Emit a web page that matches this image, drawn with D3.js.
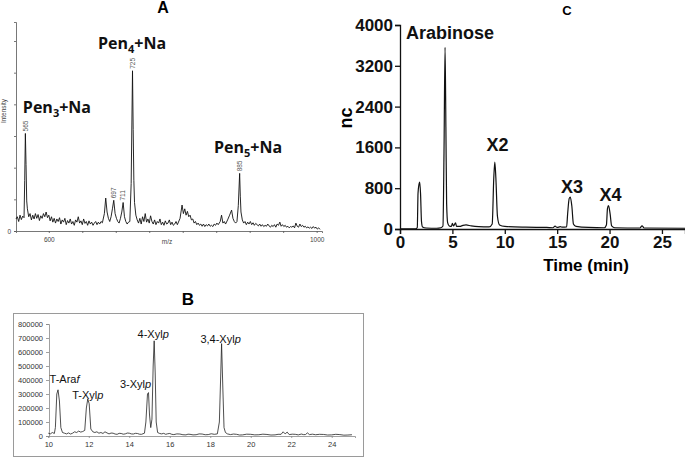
<!DOCTYPE html>
<html>
<head>
<meta charset="utf-8">
<script src="https://cdn.jsdelivr.net/npm/d3@7"></script>
<style>
    body { margin: 0; background: #fff; }
    svg { display: block; }
</style>
</head>
<body>
<svg id="chart"></svg>
<script>
// Panel A: MALDI spectrum, [m/z, intensity (a.u.)]
const spectrumA = [
    [551, .38], [553, .45], [555, .30], [557, .50], [559, .36], [561, .47], [563, .42], [564, 1.6],
    [565, 3.08], [566, 2.1], [567, .95], [568, .70], [570, .45], [572, .55], [574, .35], [576, .50],
    [578, .38], [580, .55], [582, .40], [584, .52], [586, .33], [588, .48], [590, .40], [592, .55],
    [594, .45], [596, .60], [598, .42], [600, .50], [602, .32], [604, .45], [606, .28], [608, .40],
    [610, .25], [612, .38], [614, .30], [616, .42], [618, .22], [620, .35], [622, .28], [624, .40],
    [626, .20], [628, .33], [630, .25], [632, .38], [634, .22], [636, .30], [638, .18], [640, .35],
    [642, .28], [644, .45], [646, .25], [648, .32], [650, .20], [652, .38], [654, .24], [656, .30],
    [658, .18], [660, .32], [662, .22], [664, .28], [666, .18], [668, .25], [670, .30], [672, .20],
    [674, .28], [676, .22], [678, .30], [680, .26], [683, .55], [685, 1.04], [687, .60], [689, .40],
    [691, .30], [693, .45], [695, .70], [697, .97], [699, .55], [701, .40], [703, .30], [705, .25],
    [707, .40], [709, .60], [711, .90], [713, .45], [715, .30], [717, .22], [719, .28], [721, .30],
    [723, 1.5], [725, 5.06], [726, 3.2], [727, 1.6], [728, .90], [730, .50], [732, .35], [734, .25],
    [736, .40], [738, .22], [740, .45], [742, .30], [744, .55], [746, .28], [748, .38], [750, .25],
    [752, .48], [754, .30], [756, .22], [758, .35], [760, .20], [762, .30], [764, .25], [766, .38],
    [768, .20], [770, .28], [772, .18], [774, .32], [776, .22], [778, .25], [780, .35], [782, .20],
    [784, .28], [786, .18], [788, .22], [790, .30], [792, .20], [796, .40], [799, .82], [801, .55],
    [803, .70], [805, .50], [807, .62], [809, .45], [811, .50], [813, .35], [815, .38], [817, .25],
    [819, .30], [821, .20], [823, .25], [825, .18], [827, .22], [829, .15], [831, .22], [833, .14],
    [835, .20], [837, .16], [839, .22], [841, .15], [843, .18], [845, .14], [847, .22], [849, .18],
    [851, .25], [853, .20], [856, .30], [858, .50], [860, .25], [862, .30], [864, .22], [867, .35],
    [870, .50], [873, .66], [875, .40], [877, .30], [879, .25], [881, .30], [883, .80], [885, 1.82],
    [886, 1.1], [887, .60], [889, .35], [891, .25], [893, .30], [895, .20], [897, .28], [899, .22],
    [901, .30], [903, .20], [905, .26], [907, .18], [909, .24], [911, .20], [913, .16], [915, .22],
    [917, .15], [919, .20], [921, .14], [923, .18], [925, .15], [927, .22], [929, .16], [931, .12],
    [933, .18], [935, .14], [937, .20], [939, .12], [941, .22], [943, .18], [945, .28], [947, .15],
    [949, .20], [951, .14], [953, .18], [955, .12], [957, .15], [959, .10], [961, .14], [963, .12],
    [965, .16], [967, .10], [969, .25], [971, .15], [973, .12], [975, .22], [977, .14], [979, .18],
    [981, .12], [983, .15], [985, .10], [987, .13], [989, .09], [991, .12], [993, .08], [995, .14],
    [997, .09], [999, .12], [1001, .06], [1003, .10], [1005, .05]
];
const peakMzA = [565, 697, 711, 725, 885];
const ionLabelsA = [{ mz: 565, n: '3' }, { mz: 725, n: '4' }, { mz: 885, n: '5' }];
const xTicksA = [600, 650, 700, 750, 800, 850, 900, 950, 1000];
const yTicksA = [0, 1, 2, 3, 4, 5, 6];

// Panel B: GC-MS trace, [retention time (min), abundance]
const traceB = [
    [10.0, 20000], [10.1, 15000], [10.2, 25000], [10.3, 18000], [10.35, 60000], [10.42, 300000],
    [10.48, 330000], [10.55, 250000], [10.62, 60000], [10.7, 25000], [10.8, 20000], [10.9, 15000],
    [11.0, 22000], [11.1, 14000], [11.2, 20000], [11.3, 30000], [11.4, 25000], [11.5, 35000],
    [11.6, 28000], [11.7, 32000], [11.8, 40000], [11.88, 200000], [11.95, 265000], [12.02, 230000],
    [12.1, 50000], [12.2, 30000], [12.3, 25000], [12.4, 30000], [12.5, 20000], [12.6, 25000],
    [12.7, 18000], [12.8, 30000], [12.9, 22000], [13.0, 15000], [13.1, 21000], [13.2, 20000],
    [13.3, 14000], [13.4, 12000], [13.5, 19000], [13.6, 18000], [13.7, 13000], [13.8, 15000],
    [13.9, 21000], [14.0, 20000], [14.1, 15000], [14.2, 14000], [14.3, 19000], [14.4, 18000],
    [14.5, 13000], [14.6, 12000], [14.75, 20000], [14.82, 100000], [14.9, 300000], [14.95, 310000],
    [15.0, 150000], [15.06, 60000], [15.12, 120000], [15.18, 500000], [15.23, 680000], [15.28, 450000],
    [15.33, 100000], [15.4, 25000], [15.5, 18000], [15.6, 15000], [15.7, 19000], [15.8, 12000],
    [15.9, 16000], [16.0, 18000], [16.1, 12000], [16.2, 10000], [16.35, 15000], [16.5, 14000],
    [16.65, 9000], [16.8, 8000], [16.9, 13000], [17.0, 12000], [17.15, 8000], [17.3, 9000],
    [17.45, 15000], [17.6, 14000], [17.75, 9000], [17.9, 10000], [18.05, 16000], [18.2, 12000],
    [18.35, 15000], [18.45, 100000], [18.52, 450000], [18.56, 660000], [18.62, 350000], [18.68, 60000],
    [18.75, 25000], [18.85, 15000], [19.0, 10000], [19.15, 14000], [19.3, 12000], [19.45, 7000],
    [19.6, 8000], [19.8, 13000], [20.0, 12000], [20.2, 8000], [20.4, 9000], [20.6, 13000],
    [20.8, 11000], [21.0, 7000], [21.2, 8000], [21.35, 12000], [21.5, 12000], [21.6, 30000],
    [21.7, 15000], [21.8, 28000], [21.9, 10000], [22.05, 13000], [22.2, 12000], [22.35, 8000],
    [22.5, 14000], [22.6, 10000], [22.7, 10000], [22.8, 22000], [22.9, 10000], [23.05, 13000],
    [23.2, 9000], [23.4, 12000], [23.6, 11000], [23.8, 7000], [24.0, 8000], [24.2, 12000],
    [24.4, 10000], [24.6, 6000], [24.8, 7000], [25.0, 9000]
];
const peakLabelsB = [
    { t: 10.48, name: 'T-Ara', ring: 'f' },
    { t: 11.95, name: 'T-Xyl', ring: 'p' },
    { t: 14.95, name: '3-Xyl', ring: 'p' },
    { t: 15.23, name: '4-Xyl', ring: 'p' },
    { t: 18.56, name: '3,4-Xyl', ring: 'p' }
];
const xTicksB = [10, 12, 14, 16, 18, 20, 22, 24];
const yTicksB = [0, 100000, 200000, 300000, 400000, 500000, 600000, 700000, 800000];

// Panel C: HPAEC-PAD chromatogram, [time (min), nC]
const traceC = [
    [0, 5], [1.5, 5], [1.65, 30], [1.72, 700], [1.8, 860], [1.88, 920], [1.96, 700], [2.05, 150],
    [2.15, 40], [2.5, 20], [3.5, 15], [3.9, 25], [4.1, 60], [4.2, 1500], [4.3, 3560], [4.38, 2000],
    [4.45, 500], [4.55, 120], [4.7, 60], [4.9, 50], [5.0, 110], [5.1, 60], [5.3, 120], [5.4, 50],
    [5.7, 50], [6.0, 70], [6.3, 80], [6.8, 60], [7.5, 45], [8.5, 40], [8.8, 100], [8.95, 1000],
    [9.05, 1310], [9.15, 1000], [9.3, 250], [9.5, 80], [10, 50], [12, 35], [14, 30], [14.6, 25],
    [14.8, 55], [15.0, 30], [15.3, 45], [15.5, 35], [15.9, 40], [16.0, 300], [16.15, 600],
    [16.25, 627], [16.4, 450], [16.55, 100], [16.8, 50], [18, 30], [19.5, 25], [19.7, 80],
    [19.8, 400], [19.9, 457], [20.05, 300], [20.2, 60], [20.5, 25], [22.9, 20], [23.1, 60],
    [23.3, 20], [27.2, 15]
];
const peakLabelsC = [
    { t: 4.3, name: 'Arabinose' },
    { t: 9.05, name: 'X2' },
    { t: 16.25, name: 'X3' },
    { t: 19.9, name: 'X4' }
];
const xTicksC = [0, 5, 10, 15, 20, 25];
const yTicksC = [0, 800, 1600, 2400, 3200, 4000];

const WIDTH = 685;
const HEIGHT = 458;
const SANS = 'Liberation Sans, Arial, sans-serif';

const svg = d3.select('#chart')
    .attr('width', WIDTH)
    .attr('height', HEIGHT)
    .style('background', '#fff');

function lookup(series, key)
{
    return series.find(d => d[0] === key)[1];
}

function drawPanelA()
{
    const g = svg.append('g');
    const x = d3.scaleLinear().domain([551, 1008]).range([16, 322]);
    const y = d3.scaleLinear().domain([0, 6.6]).range([231, 22]);

    g.append('text')
        .attr('x', 163).attr('y', 13)
        .attr('text-anchor', 'middle')
        .style('font', `bold 16px ${ SANS }`)
        .text('A');

    const yAxis = g.append('g')
        .attr('transform', 'translate(16,0)')
        .call(d3.axisLeft(y).tickValues(yTicksA).tickSize(2).tickPadding(3)
            .tickFormat(d => (d === 0 ? '0' : '')));
    const xAxis = g.append('g')
        .attr('transform', 'translate(0,231)')
        .call(d3.axisBottom(x).tickValues(xTicksA).tickSize(2).tickPadding(4)
            .tickFormat(d => (d === 600 || d === 1000 ? d : '')));
    [yAxis, xAxis].forEach(a => {
        a.selectAll('path, line').attr('stroke', '#555').attr('stroke-width', 0.8);
        a.selectAll('text').style('font', `6.5px ${ SANS }`).attr('fill', '#444');
    });

    g.append('text')
        .attr('x', 167).attr('y', 244)
        .attr('text-anchor', 'middle')
        .style('font', `6.5px ${ SANS }`).attr('fill', '#444')
        .text('m/z');
    g.append('text')
        .attr('transform', 'translate(6,111) rotate(-90)')
        .attr('text-anchor', 'middle')
        .style('font', `6.5px ${ SANS }`).attr('fill', '#444')
        .text('Intensity');

    g.append('path')
        .datum(spectrumA)
        .attr('fill', 'none')
        .attr('stroke', '#111')
        .attr('stroke-width', 0.9)
        .attr('stroke-linejoin', 'round')
        .attr('d', d3.line().x(d => x(d[0])).y(d => y(d[1])));

    // m/z numbers above the peaks
    peakMzA.forEach(mz => {
        const px = x(mz);
        const py = y(lookup(spectrumA, mz));
        g.append('text')
            .attr('transform', `translate(${ px },${ py - 2 }) rotate(-90)`)
            .attr('dy', '0.35em')
            .style('font', `6.5px ${ SANS }`).attr('fill', '#555')
            .text(mz);
    });

    // ion labels, offset from the peak tops
    const offsets = [[-2.5, -20], [-34.5, -21.5], [-25.6, -20]];
    ionLabelsA.forEach((lab, i) => {
        const px = x(lab.mz);
        const py = y(lookup(spectrumA, lab.mz));
        const t = g.append('text')
            .attr('x', px + offsets[i][0])
            .attr('y', py + offsets[i][1])
            .style('font', 'bold 16px "Open Sans", sans-serif')
            .attr('fill', '#111');
        t.append('tspan').text('Pen');
        t.append('tspan').attr('dy', 4).style('font-size', '11px').text(lab.n);
        t.append('tspan').attr('dy', -4).text('+Na');
    });
}

function drawPanelB()
{
    const g = svg.append('g');
    const x = d3.scaleLinear().domain([10, 25.15]).range([48.3, 355]);
    const y = d3.scaleLinear().domain([0, 800000]).range([436, 324]);

    g.append('text')
        .attr('x', 188).attr('y', 305)
        .attr('text-anchor', 'middle')
        .style('font', `bold 17px ${ SANS }`)
        .text('B');

    g.append('rect')
        .attr('x', 13.5).attr('y', 313.5)
        .attr('width', 350).attr('height', 143)
        .attr('fill', '#fff')
        .attr('stroke', '#9a9a9a')
        .attr('stroke-width', 1);

    const yAxis = g.append('g')
        .attr('transform', 'translate(49,0)')
        .call(d3.axisLeft(y).tickValues(yTicksB).tickSize(3).tickPadding(3)
            .tickFormat(d3.format('d')));
    const xAxis = g.append('g')
        .attr('transform', 'translate(0,436)')
        .call(d3.axisBottom(x).tickValues(xTicksB).tickSize(2).tickPadding(4));
    [yAxis, xAxis].forEach(a => {
        a.selectAll('path, line').attr('stroke', '#888').attr('stroke-width', 0.8);
        a.selectAll('text').style('font', `7.5px ${ SANS }`).attr('fill', '#333');
    });

    g.append('path')
        .datum(traceB)
        .attr('fill', 'none')
        .attr('stroke', '#222')
        .attr('stroke-width', 0.8)
        .attr('stroke-linejoin', 'round')
        .attr('d', d3.line().x(d => x(d[0])).y(d => y(d[1])));

    const offsets = [[6.5, -7], [0, 0], [-13, -5], [-1, -3], [-1, -0.5]];
    peakLabelsB.forEach((lab, i) => {
        const px = x(lab.t);
        const py = y(lookup(traceB, lab.t));
        const t = g.append('text')
            .attr('x', px + offsets[i][0])
            .attr('y', py + offsets[i][1])
            .attr('text-anchor', 'middle')
            .style('font', `11px ${ SANS }`)
            .attr('fill', '#111');
        t.append('tspan').text(lab.name);
        t.append('tspan').style('font-style', 'italic').text(lab.ring);
    });
}

function drawPanelC()
{
    const g = svg.append('g');
    const x = d3.scaleLinear().domain([0, 27.2]).range([400, 685]);
    const y = d3.scaleLinear().domain([0, 4000]).range([229, 25]);

    g.append('text')
        .attr('x', 567).attr('y', 15)
        .attr('text-anchor', 'middle')
        .style('font', `bold 13px ${ SANS }`)
        .text('C');

    const yAxis = g.append('g')
        .attr('transform', 'translate(400,0)')
        .call(d3.axisLeft(y).tickValues(yTicksC).tickSize(5).tickPadding(2)
            .tickFormat(d3.format('d')));
    const xAxis = g.append('g')
        .attr('transform', 'translate(0,229)')
        .call(d3.axisBottom(x).tickValues(xTicksC).tickSize(5).tickPadding(2));
    [yAxis, xAxis].forEach(a => {
        a.selectAll('path, line').attr('stroke', '#111').attr('stroke-width', 1.3);
        a.selectAll('text').style('font', `bold 17px ${ SANS }`).attr('fill', '#111');
    });

    g.append('text')
        .attr('x', 586).attr('y', 271)
        .attr('text-anchor', 'middle')
        .style('font', `bold 17px ${ SANS }`)
        .text('Time (min)');
    g.append('text')
        .attr('transform', 'translate(352,118) rotate(-90)')
        .attr('text-anchor', 'middle')
        .style('font', `bold 18px ${ SANS }`)
        .text('nc');

    g.append('path')
        .datum(traceC)
        .attr('fill', 'none')
        .attr('stroke', '#111')
        .attr('stroke-width', 1.2)
        .attr('stroke-linejoin', 'round')
        .attr('d', d3.line().curve(d3.curveMonotoneX).x(d => x(d[0])).y(d => y(d[1])));

    const offsets = [[5, -8.6], [2.7, -11.5], [1.7, -4], [2, -4.7]];
    peakLabelsC.forEach((lab, i) => {
        const px = x(lab.t);
        const py = y(lookup(traceC, lab.t));
        g.append('text')
            .attr('x', px + offsets[i][0])
            .attr('y', py + offsets[i][1])
            .attr('text-anchor', 'middle')
            .style('font', `bold 18px ${ SANS }`)
            .attr('fill', '#111')
            .text(lab.name);
    });
}

drawPanelA();
drawPanelB();
drawPanelC();
</script>
</body>
</html>
